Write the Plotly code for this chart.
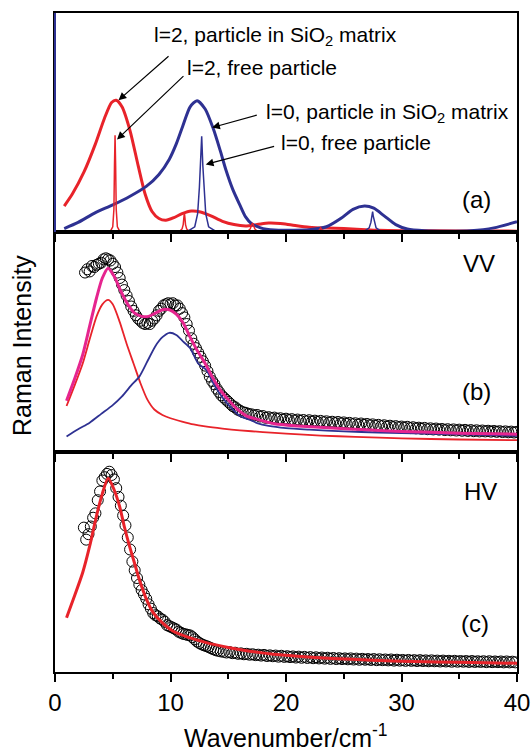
import plotly.graph_objects as go

RED = "#E8232A"
NAVY = "#2E3192"
MAGENTA = "#E6258F"
FONT = "Liberation Sans, Arial, Helvetica, sans-serif"

# ---------------- Panel (a) ----------------
a_l2_matrix_x = [0.8, 1.5, 2.5, 3.5, 4.3, 4.9, 5.3, 5.8, 6.5, 7.2, 7.8, 8.4, 9.0, 9.6, 10.3, 11.0, 11.8,
                 12.6, 13.5, 14.5, 15.5, 16.5, 17.5, 18.5, 19.5, 20.5, 22.0, 23.5, 25.0, 26.5, 28.0, 30.0, 35.0, 40.0]
a_l2_matrix_y = [0.115, 0.17, 0.27, 0.40, 0.52, 0.59, 0.60, 0.57, 0.46, 0.30, 0.17, 0.09, 0.058, 0.05, 0.062, 0.08, 0.092,
                 0.088, 0.07, 0.045, 0.03, 0.024, 0.03, 0.037, 0.035, 0.028, 0.018, 0.014, 0.012, 0.008, 0.004, 0.002, 0.001, 0.0]

a_l0_matrix_x = [0.8, 2.0, 3.5, 5.0, 6.5, 7.9, 9.0, 9.9, 10.5, 11.05, 11.7, 12.3, 13.0, 13.7, 14.3, 14.8, 15.4, 16.0,
                 16.5, 17.0, 17.8, 19.0, 20.5, 22.0, 23.5, 24.8, 25.8, 26.8, 27.6, 28.5, 29.5, 30.5, 32.0, 34.0, 36.0, 38.0, 40.0]
a_l0_matrix_y = [0.012, 0.04, 0.085, 0.12, 0.16, 0.205, 0.26, 0.33, 0.40, 0.48, 0.57, 0.598, 0.56, 0.47, 0.37, 0.28, 0.19, 0.12,
                 0.065, 0.035, 0.015, 0.005, 0.004, 0.006, 0.02, 0.06, 0.10, 0.115, 0.105, 0.07, 0.03, 0.01, 0.002, 0.0, 0.002, 0.015, 0.043]

a_l2_free_x = [0.8, 4.8, 5.0, 5.1, 5.15, 5.2, 5.25, 5.3, 5.4, 5.6,
               10.8, 11.0, 11.1, 11.15, 11.2, 11.25, 11.3, 11.4, 11.6,
               16.7, 16.9, 17.0, 17.1, 17.2, 17.3, 17.5,
               22.7, 22.9, 23.0, 23.1, 23.3, 40.0]
a_l2_free_y = [0.0, 0.0, 0.02, 0.1, 0.3, 0.44, 0.3, 0.1, 0.02, 0.0,
               0.0, 0.01, 0.03, 0.06, 0.085, 0.06, 0.03, 0.01, 0.0,
               0.0, 0.01, 0.025, 0.037, 0.025, 0.01, 0.0,
               0.0, 0.006, 0.015, 0.006, 0.0, 0.0]

a_l0_free_x = [0.8, 11.5, 12.1, 12.35, 12.5, 12.6, 12.7, 12.8, 12.9, 13.05, 13.3, 13.9,
               26.8, 27.2, 27.35, 27.45, 27.5, 27.55, 27.65, 27.8, 28.2, 40.0]
a_l0_free_y = [0.0, 0.0, 0.02, 0.08, 0.2, 0.3, 0.435, 0.3, 0.2, 0.08, 0.02, 0.0,
               0.0, 0.015, 0.04, 0.07, 0.09, 0.07, 0.04, 0.015, 0.0, 0.0]

# ---------------- Panel (b) VV ----------------
b_data_x = [2.6, 2.8, 3.0, 3.2, 3.4, 3.6, 3.8, 4.0, 4.2, 4.4, 4.6, 4.8, 5.0, 5.2, 5.4, 5.6, 5.8, 6.0, 6.2, 6.4,
            6.6, 6.8, 7.0, 7.2, 7.4, 7.6, 7.8, 8.0, 8.2, 8.4, 8.6, 8.8, 9.0, 9.2, 9.4, 9.6, 9.8, 10.0, 10.2, 10.4,
            10.6, 10.8, 11.0, 11.2, 11.4, 11.6, 11.8, 12.0, 12.2, 12.4, 12.6, 12.8, 13.0, 13.2, 13.4, 13.6, 13.8,
            14.0, 14.2, 14.4, 14.6, 14.8, 15.0, 15.2, 15.4, 15.6, 15.8, 16.0,
            16.25, 16.5, 16.75, 17.0, 17.25, 17.5, 17.75, 18.0, 18.25, 18.5, 18.75, 19.0, 19.25, 19.5, 19.75,
            20.0, 20.25, 20.5, 20.75, 21.0, 21.25, 21.5, 21.75, 22.0, 22.25, 22.5, 22.75, 23.0, 23.25, 23.5,
            23.75, 24.0, 24.25, 24.5, 24.75, 25.0, 25.25, 25.5, 25.75, 26.0, 26.25, 26.5, 26.75, 27.0, 27.25,
            27.5, 27.75, 28.0, 28.25, 28.5, 28.75, 29.0, 29.25, 29.5, 29.75, 30.0, 30.25, 30.5, 30.75, 31.0,
            31.25, 31.5, 31.75, 32.0, 32.25, 32.5, 32.75, 33.0, 33.25, 33.5, 33.75, 34.0, 34.25, 34.5, 34.75,
            35.0, 35.25, 35.5, 35.75, 36.0, 36.25, 36.5, 36.75, 37.0, 37.25, 37.5, 37.75, 38.0, 38.25, 38.5,
            38.75, 39.0, 39.25, 39.5, 39.75, 40.0]
b_data_y = [0.815, 0.83, 0.82, 0.845, 0.84, 0.85, 0.855, 0.86, 0.875, 0.88, 0.875, 0.87, 0.855, 0.84, 0.815,
            0.79, 0.76, 0.735, 0.71, 0.685, 0.66, 0.64, 0.62, 0.605, 0.595, 0.585, 0.58, 0.585, 0.58, 0.595,
            0.605, 0.62, 0.64, 0.65, 0.665, 0.67, 0.675, 0.67, 0.675, 0.665, 0.665, 0.65, 0.63, 0.61, 0.58, 0.55,
            0.515, 0.49, 0.47, 0.45, 0.43, 0.41, 0.39, 0.365, 0.34, 0.32, 0.305, 0.285, 0.27, 0.255, 0.245, 0.235,
            0.225, 0.215, 0.205, 0.2, 0.19, 0.185,
            0.178, 0.175, 0.17, 0.168, 0.163, 0.165, 0.158, 0.16, 0.152, 0.155, 0.15, 0.153, 0.147, 0.15, 0.144,
            0.148, 0.142, 0.146, 0.14, 0.144, 0.138, 0.142, 0.136, 0.141, 0.135, 0.139, 0.133, 0.138, 0.132,
            0.136, 0.13, 0.134, 0.128, 0.133, 0.127, 0.131, 0.125, 0.129, 0.123, 0.127, 0.121, 0.126, 0.12, 0.124,
            0.118, 0.122, 0.116, 0.12, 0.114, 0.118, 0.112, 0.116, 0.11, 0.114, 0.109, 0.112, 0.107, 0.111,
            0.105, 0.109, 0.104, 0.107, 0.102, 0.106, 0.1, 0.104, 0.099, 0.103, 0.098, 0.101, 0.096, 0.1, 0.095,
            0.099, 0.094, 0.098, 0.093, 0.097, 0.092, 0.096, 0.091, 0.095, 0.09, 0.094, 0.09, 0.093, 0.089,
            0.092, 0.088, 0.091, 0.087, 0.09, 0.086, 0.089, 0.085, 0.088]

b_l2_x = [1.0, 1.7, 2.4, 3.0, 3.6, 4.1, 4.6, 5.0, 5.6, 6.2, 6.8, 7.4, 8.0, 8.6, 9.3, 10.0, 11.0, 12.0, 13.0,
          14.5, 16.0, 18.0, 20.0, 23.0, 26.0, 30.0, 35.0, 40.0]
b_l2_y = [0.206, 0.30, 0.40, 0.51, 0.615, 0.67, 0.69, 0.67, 0.59, 0.49, 0.40, 0.31, 0.235, 0.19, 0.165, 0.15, 0.135,
          0.122, 0.113, 0.103, 0.095, 0.087, 0.08, 0.071, 0.065, 0.058, 0.053, 0.05]

b_l0_x = [1.0, 2.0, 3.0, 4.0, 5.0, 5.8, 6.6, 7.3, 8.0, 8.7, 9.3, 9.9, 10.5, 11.1, 11.7, 12.4, 13.1, 13.8, 14.5,
          15.1, 16.0, 17.0, 17.5, 18.5, 20.0, 22.0, 25.0, 28.0, 32.0, 36.0, 40.0]
b_l0_y = [0.067, 0.10, 0.13, 0.17, 0.21, 0.25, 0.30, 0.34, 0.41, 0.48, 0.52, 0.54, 0.53, 0.50, 0.47, 0.40, 0.37,
          0.30, 0.245, 0.206, 0.16, 0.14, 0.128, 0.115, 0.105, 0.098, 0.09, 0.085, 0.08, 0.075, 0.07]

b_sum_x = [1.0, 1.7, 2.4, 3.0, 3.6, 4.1, 4.6, 5.1, 5.7, 6.3, 6.9, 7.5, 8.1, 8.7, 9.3, 9.9, 10.5, 11.1, 11.7, 12.3,
           13.0, 13.6, 14.3, 15.0, 15.8, 16.6, 17.5, 19.0, 21.0, 24.0, 27.0, 30.0, 35.0, 40.0]
b_sum_y = [0.23, 0.33, 0.44, 0.57, 0.70, 0.79, 0.835, 0.80, 0.73, 0.67, 0.63, 0.615, 0.615, 0.63, 0.645, 0.645, 0.625,
           0.585, 0.52, 0.46, 0.40, 0.34, 0.28, 0.235, 0.19, 0.16, 0.145, 0.125, 0.115, 0.105, 0.097, 0.09, 0.082, 0.077]

# ---------------- Panel (c) HV ----------------
c_data_x = [2.5, 2.7, 2.9, 3.1, 3.3, 3.5, 3.7, 3.9, 4.1, 4.3, 4.5, 4.7, 4.9, 5.1, 5.3, 5.5, 5.7, 5.9, 6.1, 6.3,
            6.5, 6.7, 6.9, 7.1, 7.3, 7.5, 7.7, 7.9, 8.1, 8.3, 8.5, 8.7, 8.9, 9.1, 9.3, 9.5, 9.7, 9.9, 10.1, 10.3,
            10.5, 10.7, 10.9, 11.1, 11.3, 11.5, 11.7, 11.9, 12.1, 12.3, 12.5, 12.7, 12.9, 13.1, 13.3, 13.5, 13.7,
            13.9, 14.1,
            14.35, 14.6, 14.85, 15.1, 15.35, 15.6, 15.85, 16.1, 16.35, 16.6, 16.85, 17.1, 17.35, 17.6, 17.85,
            18.1, 18.35, 18.6, 18.85, 19.1, 19.35, 19.6, 19.85, 20.1, 20.35, 20.6, 20.85, 21.1, 21.35, 21.6,
            21.85, 22.1, 22.35, 22.6, 22.85, 23.1, 23.35, 23.6, 23.85, 24.1, 24.35, 24.6, 24.85, 25.1, 25.35,
            25.6, 25.85, 26.1, 26.35, 26.6, 26.85, 27.1, 27.35, 27.6, 27.85, 28.1, 28.35, 28.6, 28.85, 29.1,
            29.35, 29.6, 29.85, 30.1, 30.35, 30.6, 30.85, 31.1, 31.35, 31.6, 31.85, 32.1, 32.35, 32.6, 32.85,
            33.1, 33.35, 33.6, 33.85, 34.1, 34.35, 34.6, 34.85, 35.1, 35.35, 35.6, 35.85, 36.1, 36.35, 36.6,
            36.85, 37.1, 37.35, 37.6, 37.85, 38.1, 38.35, 38.6, 38.85, 39.1, 39.35, 39.6, 39.85]
c_data_y = [0.655, 0.60, 0.625, 0.66, 0.70, 0.72, 0.78, 0.82, 0.87, 0.885, 0.90, 0.91, 0.895, 0.875, 0.835, 0.795,
            0.755, 0.71, 0.665, 0.61, 0.555, 0.50, 0.46, 0.425, 0.395, 0.37, 0.35, 0.33, 0.305, 0.285, 0.265,
            0.255, 0.25, 0.24, 0.235, 0.225, 0.21, 0.205, 0.20, 0.195, 0.19, 0.18, 0.175, 0.17, 0.168, 0.165,
            0.163, 0.155, 0.145, 0.135, 0.128, 0.122, 0.118, 0.114, 0.11, 0.105, 0.10, 0.096, 0.093,
            0.09, 0.088, 0.085, 0.087, 0.082, 0.084, 0.079, 0.081, 0.077, 0.079, 0.075, 0.077, 0.073, 0.075, 0.071,
            0.074, 0.069, 0.072, 0.068, 0.071, 0.066, 0.07, 0.065, 0.068, 0.064, 0.067, 0.062, 0.066, 0.061, 0.065,
            0.06, 0.064, 0.059, 0.063, 0.058, 0.062, 0.057, 0.061, 0.056, 0.06, 0.055, 0.059, 0.055, 0.058, 0.054,
            0.058, 0.053, 0.057, 0.052, 0.056, 0.052, 0.055, 0.051, 0.055, 0.05, 0.054, 0.05, 0.053, 0.049, 0.053,
            0.048, 0.052, 0.048, 0.051, 0.047, 0.051, 0.047, 0.05, 0.046, 0.05, 0.046, 0.049, 0.045, 0.049, 0.045,
            0.048, 0.044, 0.048, 0.044, 0.047, 0.043, 0.047, 0.043, 0.046, 0.043, 0.046, 0.042, 0.046, 0.042,
            0.045, 0.042, 0.045, 0.041, 0.045, 0.041, 0.044, 0.041, 0.044, 0.04, 0.044, 0.04, 0.043, 0.04]

c_fit_x = [1.0, 1.6, 2.4, 3.0, 3.6, 4.1, 4.6, 5.1, 5.6, 6.0, 6.45, 6.9, 7.3, 7.9, 8.5, 9.3, 10.2, 11.5, 13.1,
           15.0, 17.0, 18.9, 21.0, 24.0, 27.5, 31.0, 35.0, 40.0]
c_fit_y = [0.244, 0.33, 0.45, 0.57, 0.71, 0.81, 0.88, 0.83, 0.75, 0.66, 0.57, 0.49, 0.418, 0.33, 0.267, 0.22, 0.183,
           0.155, 0.13, 0.108, 0.09, 0.077, 0.068, 0.058, 0.05, 0.044, 0.04, 0.036]

tick_vals = [0, 10, 20, 30, 40]
tick_text = ["0", "10", "20", "30", "40"]
minor_tick_vals = [5, 15, 25, 35]

fig = go.Figure()


def line(x, y, ax, color, width, smooth=True):
    shape = dict(shape="spline", smoothing=0.7) if smooth else dict(shape="linear")
    fig.add_trace(go.Scatter(x=x, y=y, xaxis="x" + ax, yaxis="y" + ax, mode="lines",
                             line=dict(color=color, width=width, **shape), showlegend=False, hoverinfo="skip"))


def circles(x, y, ax):
    fig.add_trace(go.Scatter(x=x, y=y, xaxis="x" + ax, yaxis="y" + ax, mode="markers",
                             marker=dict(symbol="circle-open", size=11, color="black", line=dict(width=1)),
                             showlegend=False, hoverinfo="skip"))


# panel (a)
line(a_l2_matrix_x, a_l2_matrix_y, "", RED, 3)
line(a_l0_matrix_x, a_l0_matrix_y, "", NAVY, 3)
line(a_l2_free_x, a_l2_free_y, "", RED, 1.5, smooth=False)
line(a_l0_free_x, a_l0_free_y, "", NAVY, 1.5, smooth=False)

# panel (b)
circles(b_data_x, b_data_y, "2")
line(b_l2_x, b_l2_y, "2", RED, 1.8)
line(b_l0_x, b_l0_y, "2", NAVY, 1.8)
line(b_sum_x, b_sum_y, "2", MAGENTA, 3)

# panel (c)
circles(c_data_x, c_data_y, "3")
line(c_fit_x, c_fit_y, "3", RED, 3)

H = 750
T, B = 13, 78
ph = H - T - B
dom_c = [0, (672 - 452) / ph]
dom_b = [(672 - 452) / ph, (672 - 232) / ph]
dom_a = [(672 - 232) / ph, 1]

xcommon = dict(range=[0, 40], showline=True, linecolor="black", linewidth=1.5, mirror=True, automargin=False,
               ticks="outside", tickvals=tick_vals, ticklen=8, tickwidth=1.5, tickcolor="black",
               minor=dict(tickvals=minor_tick_vals, ticklen=5, tickwidth=1.5, tickcolor="black", ticks="outside"),
               showgrid=False, zeroline=False)
ycommon = dict(range=[-0.004, 1], showline=True, linecolor="black", linewidth=1.5, mirror=True, automargin=False,
               showticklabels=False, ticks="", showgrid=False, zeroline=False)

fig.update_layout(
    template="none",
    width=532, height=750,
    margin=dict(l=55, r=15, t=T, b=B, autoexpand=False),
    paper_bgcolor="white", plot_bgcolor="white",
    font=dict(family=FONT, color="black", size=21),
    showlegend=False,
    xaxis=dict(anchor="y", showticklabels=False, **xcommon),
    yaxis=dict(domain=dom_a, anchor="x", **ycommon),
    xaxis2=dict(anchor="y2", showticklabels=False, **xcommon),
    yaxis2=dict(domain=dom_b, anchor="x2", **ycommon),
    xaxis3=dict(anchor="y3", showticklabels=True, ticktext=tick_text, tickfont=dict(size=24), **xcommon),
    yaxis3=dict(domain=dom_c, anchor="x3", **ycommon),
)

annotations = []
# arrows (head at x,y ; tail at ax,ay)
arrows = [
    (5.5, 0.60, 9.96, 0.808),
    (5.37, 0.42, 11.25, 0.717),
    (13.6, 0.475, 17.6, 0.534),
    (13.05, 0.306, 19.1, 0.39),
]
for hx, hy, tx, ty in arrows:
    annotations.append(dict(x=hx, y=hy, ax=tx, ay=ty, xref="x", yref="y", axref="x", ayref="y",
                            text="", showarrow=True, arrowhead=2, arrowsize=1.3, arrowwidth=1.2,
                            arrowcolor="black", standoff=0, startstandoff=0))

labels_a = [
    ("l=2, particle in SiO<sub>2</sub> matrix", 8.4, 0.895),
    ("l=2, free particle", 11.26, 0.749),
    ("l=0, particle in SiO<sub>2</sub> matrix", 18.06, 0.543),
    ("l=0, free particle", 19.4, 0.408),
]
for txt, x, y in labels_a:
    annotations.append(dict(x=x, y=y, xref="x", yref="y", text=txt, showarrow=False,
                            xanchor="left", yanchor="middle", font=dict(size=21)))

panel_labels = [
    ("(a)", 36.5, 0.146, "x", "y"),
    ("VV", 36.7, 0.855, "x2", "y2"),
    ("(b)", 36.5, 0.273, "x2", "y2"),
    ("HV", 36.8, 0.818, "x3", "y3"),
    ("(c)", 36.4, 0.218, "x3", "y3"),
]
for txt, x, y, xr, yr in panel_labels:
    annotations.append(dict(x=x, y=y, xref=xr, yref=yr, text=txt, showarrow=False,
                            xanchor="center", yanchor="middle", font=dict(size=24)))

annotations.append(dict(x=(22 - 55) / 462, y=(672 - 346) / ph, xref="paper", yref="paper",
                        text="Raman Intensity", textangle=-90, showarrow=False,
                        xanchor="center", yanchor="middle", font=dict(size=25)))
annotations.append(dict(x=0.5, y=(672 - 736) / ph, xref="paper", yref="paper",
                        text="Wavenumber/cm<sup>-1</sup>", showarrow=False,
                        xanchor="center", yanchor="middle", font=dict(size=25)))

fig.update_layout(annotations=annotations)

# navy left border of panel (a)
fig.add_shape(type="line", xref="paper", yref="paper", x0=0, x1=0, y0=dom_a[0], y1=1,
              line=dict(color=NAVY, width=2), layer="above")

fig.write_html("out.html")
